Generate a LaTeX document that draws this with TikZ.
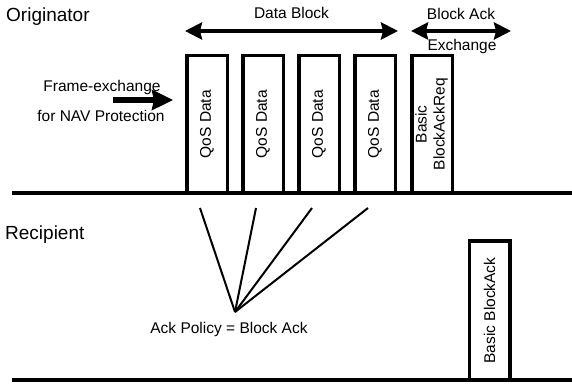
\documentclass[tikz,border=0pt]{standalone}
\usepackage{fontspec}
\setmainfont{Liberation Sans}
\usepackage{tikz}
\usetikzlibrary{arrows.meta, positioning, calc}

\begin{document}
\begin{tikzpicture}[
        x=1pt, y=-1pt,
        frame/.style={rectangle, draw, line width=3.5pt, outer sep=0pt, inner sep=0pt, minimum width=40.5pt, minimum height=137.5pt, font=\fontsize{15.5}{18}\selectfont},
        lbl/.style={inner sep=0pt, anchor=base, font=\fontsize{15.5}{18}\selectfont},
        party/.style={inner sep=0pt, anchor=base west, font=\fontsize{19}{22}\selectfont},
        wire/.style={line width=3.5pt},
        span/.style={{Stealth[length=17pt, width=17pt, inset=2pt]}-{Stealth[length=17pt, width=17pt, inset=2pt]}, line width=4pt},
        navarrow/.style={-{Stealth[length=21pt, width=20pt, inset=2pt]}, line width=6pt},
        fan/.style={line width=2pt}
    ]
    \useasboundingbox (0,0) rectangle (572,387);

    % Time lines
    \draw [wire] (12,193) -- (572,193);
    \draw [wire] (12,380) -- (572,380);

    % Nodes
    \node (orig) [party] at (6,21.7) {Originator};
    \node (recip) [party] at (5,240) {Recipient};

    \node (d1) [frame, anchor=south] at (207,193) {\rotatebox{90}{QoS Data}};
    \node (d2) [frame, right=15.5pt of d1] {\rotatebox{90}{QoS Data}};
    \node (d3) [frame, right=15.5pt of d2] {\rotatebox{90}{QoS Data}};
    \node (d4) [frame, right=15.5pt of d3] {\rotatebox{90}{QoS Data}};
    \node (bar) [frame, right=16.5pt of d4] {\rotatebox{90}{\begin{tabular}{@{}c@{}}Basic\\BlockAckReq\end{tabular}}};
    \node (ba) [frame, anchor=south, minimum height=139pt] at (489.5,380) {\rotatebox{90}{Basic BlockAck}};

    \node (dblock) [lbl] at (291.5,18.5) {Data Block};
    \node (baex1) [lbl] at (461,19.3) {Block Ack};
    \node (baex2) [lbl] at (462,50.7) {Exchange};
    \node (nav1) [lbl] at (102,91.7) {Frame-exchange};
    \node (nav2) [lbl] at (101,121.7) {for NAV Protection};
    \node (policy) [lbl] at (229,333.3) {Ack Policy = Block Ack};

    \coordinate (dbL) at (185,31);
    \coordinate (dbR) at (398,31);
    \coordinate (baL) at (411,31);
    \coordinate (baR) at (511,31);
    \coordinate (navS) at (113,100);
    \coordinate (navE) at (173,100);
    \coordinate (ackpt) at (235,312);

    % Arrows
    \draw [span] (dbL) -- (dbR);
    \draw [span] (baL) -- (baR);
    \draw [navarrow] (navS) -- (navE);
    \foreach \i in {1,...,4}
        \draw [fan] (ackpt) -- ($(d\i.south)+(-7,15)$);

\end{tikzpicture}
\end{document}
